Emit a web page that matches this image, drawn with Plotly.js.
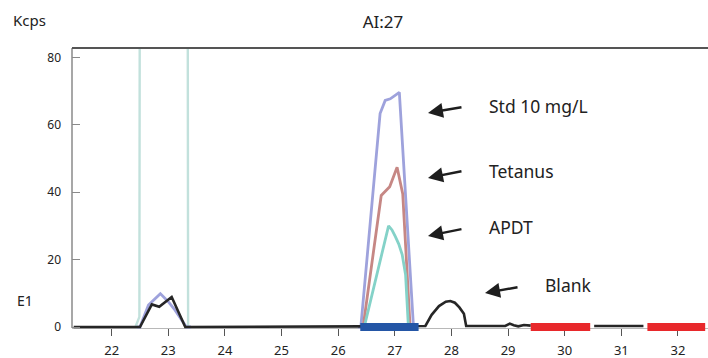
<!DOCTYPE html>
<html>
<head>
<meta charset="utf-8">
<script src="https://cdn.plot.ly/plotly-3.0.1.min.js"></script>
<style>
  html, body { margin: 0; padding: 0; background: #fff; }
  #chart { width: 708px; height: 358px; }
</style>
</head>
<body>
<div id="chart"></div>
<script>
// Elution times (s scale shown on the x axis) and signal in Kcps for each run
const offScaleX = [22.42, 22.49, 22.50, 23.34, 23.35];
const offScaleY = [0, 3, 150, 150, 0];

const stdX = [22.45, 22.50, 22.65, 22.86, 23.00, 23.12, 23.32, 23.40, null,
              26.35, 26.40, 26.74, 26.83, 26.92, 27.08, 27.33, 27.40];
const stdY = [0, 0, 6.5, 9.9, 7.5, 5.0, 0, 0, null,
              0, 0, 63.3, 67.2, 67.7, 69.6, 0, 0];

const tetX = [26.40, 26.44, 26.76, 26.91, 27.04, 27.14, 27.27, 27.32];
const tetY = [0, 0, 39.0, 41.6, 47.4, 39.5, 0, 0];

const apdtX = [26.42, 26.46, 26.89, 26.95, 27.01, 27.07, 27.13, 27.19, 27.24, 27.28];
const apdtY = [0, 0, 30.0, 28.8, 26.8, 24.6, 21.5, 15.5, 0, 0];

const blankX = [21.33, 22.50, 22.71, 22.84, 23.06, 23.30, 26.40, 27.42, 27.54,
                27.65, 27.78, 27.90, 27.98, 28.06, 28.14, 28.22, 28.26, 28.95,
                29.03, 29.10, 29.18, 29.28, 29.40, null, 30.52, 31.39, null];
const blankY = [0, 0, 6.7, 6.0, 8.9, 0, 0.2, 0.2, 0.3,
                3.6, 6.2, 7.5, 7.7, 7.2, 5.8, 3.9, 0.3, 0.3,
                1.0, 0.5, 0.2, 0.6, 0.4, null, 0.3, 0.3, null];

// Integration windows drawn on the baseline
const peakWindow = [26.39, 27.42];
const bgWindows = [[29.40, 30.45], [31.46, 32.48]];

const xTicks = [22, 23, 24, 25, 26, 27, 28, 29, 30, 31, 32];
const yTicks = [0, 20, 40, 60, 80];

const FONT = '"Noto Sans", "Open Sans", sans-serif';

const line = (x, y, color, width) => ({
  x, y, type: 'scatter', mode: 'lines', hoverinfo: 'skip',
  connectgaps: false,
  line: { color, width, shape: 'linear' }
});

const traces = [
  line(offScaleX, offScaleY, '#c2e1dc', 2.4),
  line(stdX, stdY, '#9ea2dc', 2.8),
  line(tetX, tetY, '#c68784', 2.8),
  line(apdtX, apdtY, '#84d2c8', 2.8),
  line(blankX, blankY, '#262626', 2.6),
  line(peakWindow, [0, 0], '#2456a6', 8)
];
bgWindows.forEach(w => traces.push(line(w, [0, 0], '#e8282b', 8)));

const labels = [
  { text: 'Std 10 mg/L', x: 0.6525, y: 0.793 },
  { text: 'Tetanus', x: 0.6525, y: 0.561 },
  { text: 'APDT', x: 0.6525, y: 0.361 },
  { text: 'Blank', x: 0.7406, y: 0.154 }
];
const arrows = [
  { x: 0.5597, y: 0.768, ax: 35, ay: -6 },
  { x: 0.5597, y: 0.536, ax: 35, ay: -7 },
  { x: 0.5597, y: 0.329, ax: 35, ay: -7 },
  { x: 0.6494, y: 0.125, ax: 34, ay: -6 }
];

// plot area runs from y=48 to y=333 px; the axis sits at 328 px
const PH = 285;
const toPaperY = px => (333 - px) / PH;

const annotations = [];
labels.forEach(l => annotations.push({
  xref: 'paper', yref: 'paper', x: l.x, y: toPaperY(328 - l.y * 280), text: l.text,
  showarrow: false, xanchor: 'left', yanchor: 'middle',
  font: { family: FONT, size: 17.5, color: '#222' }
}));
arrows.forEach(a => annotations.push({
  xref: 'paper', yref: 'paper', x: a.x, y: toPaperY(328 - a.y * 280), ax: a.ax, ay: a.ay,
  text: '', showarrow: true, arrowhead: 2, arrowsize: 1.25,
  arrowwidth: 2.4, arrowcolor: '#1e1e1e'
}));
annotations.push({
  xref: 'paper', yref: 'paper', x: -0.0676, y: toPaperY(20), text: 'Kcps',
  showarrow: false, xanchor: 'center', yanchor: 'middle',
  font: { family: FONT, size: 15, color: '#222' }
});
annotations.push({
  xref: 'paper', yref: 'paper', x: -0.0739, y: toPaperY(300), text: 'E1',
  showarrow: false, xanchor: 'center', yanchor: 'middle',
  font: { family: FONT, size: 14, color: '#222' }
});

const layout = {
  width: 708, height: 358,
  margin: { l: 72, r: 0, t: 48, b: 25 },
  paper_bgcolor: '#fff', plot_bgcolor: '#fff',
  showlegend: false,
  font: { family: FONT, color: '#222' },
  title: {
    text: 'AI:27', xref: 'paper', x: 0.489, xanchor: 'center',
    yref: 'container', y: 0.939, yanchor: 'middle',
    font: { family: FONT, size: 17, color: '#222' }
  },
  xaxis: {
    range: [21.30, 32.53], tickvals: xTicks, ticktext: xTicks.map(String),
    anchor: 'free', position: 5 / PH, layer: 'below traces',
    showgrid: false, zeroline: false,
    showline: true, linecolor: '#b8b8b8', linewidth: 1,
    ticks: 'outside', ticklen: 7, tickwidth: 1, tickcolor: '#555',
    ticklabelstandoff: 3,
    tickfont: { family: FONT, size: 13, color: '#222' }
  },
  yaxis: {
    range: [-1.78, 82.76], tickvals: yTicks, ticktext: yTicks.map(String),
    showgrid: false, zeroline: false, showline: false,
    ticks: 'inside', ticklen: 8, tickwidth: 1, tickcolor: '#8a8a8a',
    ticklabelstandoff: 10,
    tickfont: { family: FONT, size: 12, color: '#222' }
  },
  shapes: [
    {
      type: 'line', xref: 'paper', yref: 'paper', x0: 0, x1: 1, y0: 1, y1: 1,
      line: { color: '#555', width: 2 }
    },
    {
      type: 'line', xref: 'paper', yref: 'paper', x0: 0, x1: 0,
      y0: 5 / PH, y1: 1, layer: 'below',
      line: { color: '#8a8a8a', width: 1.5 }
    }
  ],
  annotations
};

Plotly.newPlot('chart', traces, layout, { staticPlot: true, displayModeBar: false });
</script>
</body>
</html>
